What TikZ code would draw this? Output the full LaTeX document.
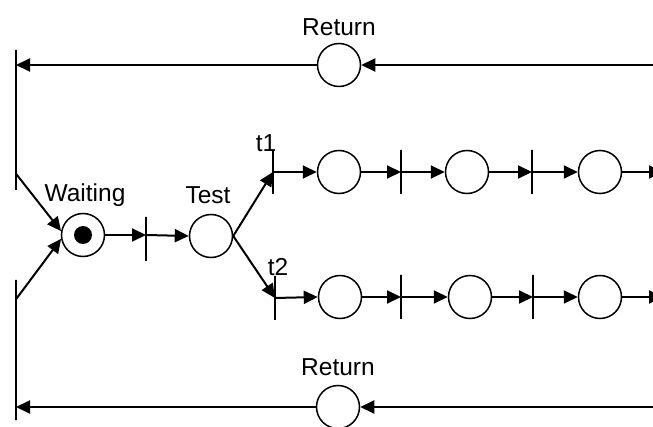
\documentclass[tikz,border=0pt]{standalone}
\usepackage{fontspec}
\setmainfont{Liberation Sans}
\usetikzlibrary{arrows.meta,calc}
\begin{document}
\begin{tikzpicture}[x=1pt,y=-1pt,
  place/.style={circle,draw,line width=1.5pt,minimum size=43pt,inner sep=0pt},
  trans/.style={draw,line width=1.5pt,minimum width=0pt,minimum height=44pt,inner sep=0pt},
  longtrans/.style={trans,minimum height=140pt},
  arc/.style={-{Triangle[length=14pt,width=13pt]},line width=2pt},
  lbl/.style={font=\fontsize{24.5}{28}\selectfont,inner sep=0pt}]
\useasboundingbox (0,0) rectangle (653,427);
% left long transitions
\node[longtrans] (L1) at (16,120) {};
\node[longtrans] (L2) at (16,350) {};
% return places
\node[place] (ret1) at (339,65) {};
\node[lbl] (lr1) at (339,27) {Return};
\node[place] (ret2) at (338,407) {};
\node[lbl] (lr2) at (338,367) {Return};
\coordinate (r1) at (655,65);
\coordinate (r2) at (655,407);
% main
\node[place] (W) at (83,235) {};
\fill (W.center) circle (9pt);
\node[lbl] (lw) at (85,195) {Waiting};
\node[trans] (T0) at (146,239) {};
\node[place] (T) at (211,236) {};
\node[lbl] (lt) at (208,195) {Test};
\node[trans] (t1) at (273,172) {};
\node[lbl] (lt1) at (266,143) {t1};
\node[trans] (t2) at (275,298) {};
\node[lbl] (lt2) at (278,267) {t2};
% row 1
\node[place] (p11) at (339,172) {};
\node[trans] (b12) at (401,172) {};
\node[place] (p12) at (467,172) {};
\node[trans] (b13) at (532,172) {};
\node[place] (p13) at (600,172) {};
\coordinate (e1) at (663,172);
% row 2
\node[place] (p21) at (340,297) {};
\node[trans] (b22) at (401,297) {};
\node[place] (p22) at (470,297) {};
\node[trans] (b23) at (533,297) {};
\node[place] (p23) at (600,297) {};
\coordinate (e2) at (663,297);
% arcs
\draw[arc] (r1) -- (ret1.east);
\draw[arc] (ret1.west) -- (ret1.west -| L1.center);
\draw[arc] (r2) -- (ret2.east);
\draw[arc] (ret2.west) -- (ret2.west -| L2.center);
\draw[arc] ($(L1.south)+(0,-17)$) -- (W.170);
\draw[arc] ($(L2.north)+(0,20)$) -- (W.190);
\draw[arc] (W.east) -- (T0.center |- W.east);
\draw[arc] (T0.center |- W.east) -- (T.west);
\draw[arc] (T.east) -- (t1.center);
\draw[arc] (T.east) -- (t2.center);
\draw[arc] (t1.center) -- (p11.west);
\draw[arc] (p11.east) -- (b12.center);
\draw[arc] (b12.center) -- (p12.west);
\draw[arc] (p12.east) -- (b13.center);
\draw[arc] (b13.center) -- (p13.west);
\draw[arc] (p13.east) -- (e1);
\draw[arc] (t2.center) -- (p21.west);
\draw[arc] (p21.east) -- (b22.center);
\draw[arc] (b22.center) -- (p22.west);
\draw[arc] (p22.east) -- (b23.center);
\draw[arc] (b23.center) -- (p23.west);
\draw[arc] (p23.east) -- (e2);
\end{tikzpicture}
\end{document}
